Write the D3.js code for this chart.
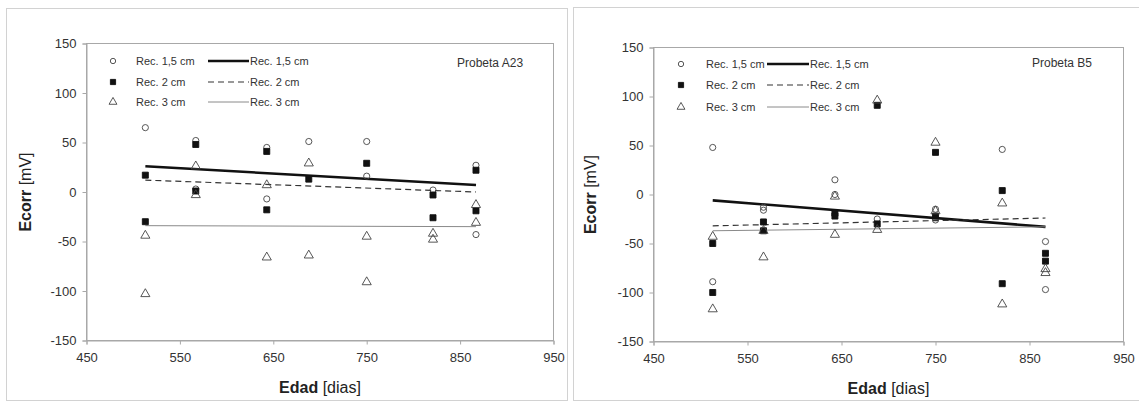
<!DOCTYPE html>
<html>
<head>
<meta charset="utf-8">
<script src="https://cdn.jsdelivr.net/npm/d3@7"></script>
<style>
  body { margin: 0; background: #fff; }
  svg text { font-family: "Liberation Sans", Arial, sans-serif; fill: #222; }
</style>
</head>
<body>
<div id="chart"></div>
<script>
// tick labels
const xTicks = [450, 550, 650, 750, 850, 950];
const yTicks = [-150, -100, -50, 0, 50, 100, 150];
const seriesNames = ["Rec. 1,5 cm", "Rec. 2 cm", "Rec. 3 cm"];

// Probeta A23: [edad, ecorr]
const a23Rec15 = [[513,65],[567,52],[567,3],[643,45],[643,-7],[688,51],[750,51],[750,16],[821,2],[867,27],[867,-43]];
const a23Rec2 = [[513,17],[513,-30],[567,48],[567,1],[643,41],[643,-18],[688,13],[750,29],[821,-3],[821,-26],[867,22],[867,-19]];
const a23Rec3 = [[513,-44],[513,-103],[567,26],[567,-3],[643,7],[643,-66],[688,29],[688,-64],[750,-45],[750,-91],[821,-42],[821,-48],[867,-13],[867,-31]];
const a23Trend15 = [[513,26],[867,7]];
const a23Trend2 = [[513,12],[867,0]];
const a23Trend3 = [[513,-34],[867,-35]];

// Probeta B5
const b5Rec15 = [[513,48],[513,-89],[567,-13],[567,-16],[643,15],[643,0],[688,-25],[750,-15],[750,-26],[821,46],[867,-48],[867,-97]];
const b5Rec2 = [[513,-50],[513,-100],[567,-28],[567,-37],[643,-19],[643,-22],[688,91],[688,-30],[750,43],[750,-22],[821,4],[821,-91],[867,-60],[867,-68]];
const b5Rec3 = [[513,-43],[513,-117],[567,-37],[567,-64],[643,-2],[643,-41],[688,96],[688,-36],[750,53],[750,-17],[821,-9],[821,-112],[867,-76],[867,-80]];
const b5Trend15 = [[513,-6],[867,-33]];
const b5Trend2 = [[513,-32],[867,-24]];
const b5Trend3 = [[513,-37],[867,-33]];

const W = 1139, H = 401;
const svg = d3.select("#chart").append("svg").attr("width", W).attr("height", H);

const markers = [
  { sym: d3.symbolCircle, size: 30, fill: "none", stroke: "#444" },
  { sym: d3.symbolSquare, size: 36, fill: "#111", stroke: "#111" },
  { sym: d3.symbolTriangle, size: 36, fill: "none", stroke: "#444" }
];
const lineStyles = [
  { w: 2.6, color: "#111", dash: null },
  { w: 1.2, color: "#333", dash: "6,4" },
  { w: 1, color: "#8a8a8a", dash: null }
];

function drawPanel(p) {
  svg.append("rect").attr("x", p.box[0]).attr("y", p.box[1])
    .attr("width", p.box[2]).attr("height", p.box[3])
    .attr("fill", "none").attr("stroke", "#d2d2d2");

  const x = d3.scaleLinear().domain([450, 950]).range([p.left, p.right]);
  const y = d3.scaleLinear().domain([-150, 150]).range([p.bottom, p.top]);

  const g = svg.append("g");
  g.append("rect").attr("x", p.left).attr("y", p.top)
    .attr("width", p.right - p.left).attr("height", p.bottom - p.top)
    .attr("fill", "none").attr("stroke", "#a8a8a8");

  const xa = g.append("g").attr("transform", `translate(0,${p.bottom})`)
    .call(d3.axisBottom(x).tickValues(xTicks).tickFormat(d => String(d)).tickSize(4).tickPadding(8));
  const ya = g.append("g").attr("transform", `translate(${p.left},0)`)
    .call(d3.axisLeft(y).tickValues(yTicks).tickFormat(d => String(d)).tickSize(4).tickPadding(6));
  [xa, ya].forEach(a => {
    a.select(".domain").attr("stroke", "#a8a8a8");
    a.selectAll(".tick line").attr("stroke", "#a8a8a8");
    a.selectAll(".tick text").attr("font-size", 13).style("fill", "#333")
      .attr("font-family", "Liberation Sans, Arial, sans-serif");
  });

  // trend lines
  const line = d3.line().x(d => x(d[0])).y(d => y(d[1]));
  p.trends.forEach((t, i) => {
    const s = lineStyles[i];
    g.append("path").attr("d", line(t)).attr("fill", "none")
      .attr("stroke", s.color).attr("stroke-width", s.w)
      .attr("stroke-dasharray", s.dash);
  });

  // points
  p.series.forEach((pts, i) => {
    const m = markers[i];
    g.selectAll(null).data(pts).enter().append("path")
      .attr("d", d3.symbol().type(m.sym).size(m.size))
      .attr("transform", d => `translate(${x(d[0])},${y(d[1])})`)
      .attr("fill", m.fill).attr("stroke", m.stroke).attr("stroke-width", 0.9);
  });

  // legend
  const L = p.legend;
  seriesNames.forEach((name, i) => {
    const ly = L.rows[i], m = markers[i], s = lineStyles[i];
    g.append("path").attr("d", d3.symbol().type(m.sym).size(m.size * 0.75)())
      .attr("transform", `translate(${L.marker},${ly})`)
      .attr("fill", m.fill).attr("stroke", m.stroke).attr("stroke-width", 0.9);
    g.append("text").attr("x", L.text).attr("y", ly).attr("dy", "0.35em")
      .attr("font-size", 11).style("fill", "#333").text(name);
    g.append("line").attr("x1", L.line[0]).attr("x2", L.line[1])
      .attr("y1", ly).attr("y2", ly)
      .attr("stroke", s.color).attr("stroke-width", s.w).attr("stroke-dasharray", s.dash);
    g.append("text").attr("x", L.line[1] + 1).attr("y", ly).attr("dy", "0.35em")
      .attr("font-size", 11).style("fill", "#333").text(name);
  });

  g.append("text").attr("x", p.titlePos[0]).attr("y", p.titlePos[1]).attr("dy", "0.35em")
    .attr("font-size", 12).style("fill", "#333").text(p.title);

  // axis titles
  const xt = g.append("text").attr("x", (p.left + p.right) / 2).attr("y", p.xTitleY)
    .attr("text-anchor", "middle").attr("font-size", 16);
  xt.append("tspan").attr("font-weight", "bold").text("Edad");
  xt.append("tspan").text(" [dias]");

  const yt = g.append("text")
    .attr("transform", `translate(${p.yTitleX},${(p.top + p.bottom) / 2}) rotate(-90)`)
    .attr("text-anchor", "middle").attr("font-size", 16);
  yt.append("tspan").attr("font-weight", "bold").text("Ecorr");
  yt.append("tspan").text(" [mV]");
}

drawPanel({
  box: [6.5, 8.5, 561, 392],
  left: 86.5, right: 553.5, top: 43.5, bottom: 340.5,
  series: [a23Rec15, a23Rec2, a23Rec3],
  trends: [a23Trend15, a23Trend2, a23Trend3],
  legend: { marker: 113, text: 136, line: [208, 249], rows: [61, 82, 102] },
  title: "Probeta A23", titlePos: [457, 63],
  xTitleY: 393, yTitleX: 31
});

drawPanel({
  box: [573.5, 7.5, 570, 393],
  left: 653.5, right: 1123.5, top: 47.5, bottom: 341.5,
  series: [b5Rec15, b5Rec2, b5Rec3],
  trends: [b5Trend15, b5Trend2, b5Trend3],
  legend: { marker: 681, text: 706, line: [767, 809], rows: [64, 85, 107] },
  title: "Probeta B5", titlePos: [1032, 63],
  xTitleY: 394, yTitleX: 596
});
</script>
</body>
</html>
